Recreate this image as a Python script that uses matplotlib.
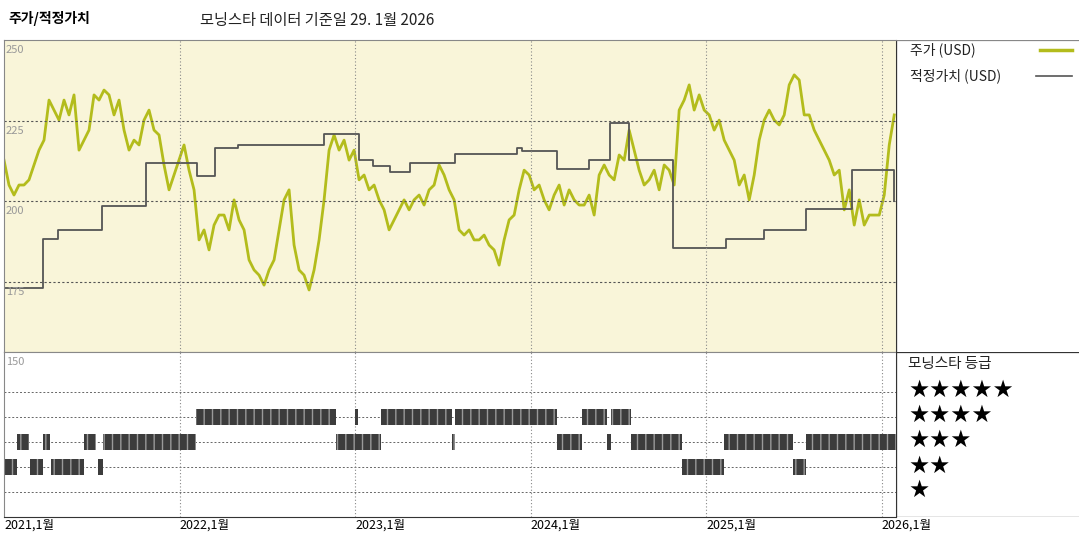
import numpy as np
import matplotlib.pyplot as plt

plt.rcParams['font.family'] = ['Noto Sans CJK KR', 'DejaVu Sans']

# price (USD), roughly every 10 days from 2021-01 to 2026-01
price = [212.8, 205.1, 202, 205.1, 205.1, 206.7, 211.3, 215.9, 219, 231.4, 228.3, 225.2, 231.4, 226.8,
         233, 215.9, 219, 222.1, 233, 231.4, 234.5, 233, 226.8, 231.4, 222.1, 215.9, 219, 217.5, 225.2,
         228.3, 222.1, 220.6, 211.3, 203.6, 208.2, 212.8, 217.5, 209.7, 203.6, 188.1, 191.2, 185, 192.7,
         195.8, 195.8, 191.2, 200.5, 194.3, 191.2, 181.9, 178.8, 177.2, 174.1, 178.8, 181.9, 191.2, 200.5,
         203.6, 186.5, 178.8, 177.2, 172.6, 178.8, 188.1, 200.5, 215.9, 220.6, 215.9, 219, 212.8, 215.9,
         206.7, 208.2, 203.6, 205.1, 200.5, 197.4, 191.2, 194.3, 197.4, 200.5, 197.4, 200.5, 202, 198.9,
         203.6, 205.1, 211.3, 208.2, 203.6, 200.5, 191.2, 189.6, 191.2, 188.1, 188.1, 189.6, 186.5, 185,
         180.3, 188.1, 194.3, 195.8, 203.6, 209.7, 208.2, 203.6, 205.1, 200.5, 197.4, 202, 205.1, 198.9,
         203.6, 200.5, 198.9, 198.9, 202, 195.8, 208.2, 211.3, 208.2, 206.7, 214.4, 212.8, 222.1, 215.9,
         209.7, 205.1, 206.7, 209.7, 203.6, 211.3, 209.7, 205.1, 228.3, 231.4, 236.1, 228.3, 233, 228.3,
         226.8, 222.1, 225.2, 219, 215.9, 212.8, 205.1, 208.2, 200.5, 208.2, 219, 225.2, 228.3, 225.2,
         223.7, 226.8, 236.1, 239.2, 237.6, 226.8, 226.8, 222.1, 219, 215.9, 212.8, 208.2, 209.7, 197.4,
         203.6, 192.7, 200.5, 192.7, 195.8, 195.8, 195.8, 202, 217.5, 226.8]
price_dates = np.linspace(2021.0, 2026.07, len(price))

# fair value steps
fv_dates = [2021.0, 2021.22, 2021.31, 2021.56, 2021.81, 2022.10, 2022.20, 2022.33, 2022.82, 2023.02,
            2023.10, 2023.20, 2023.31, 2023.57, 2023.92, 2023.95, 2024.15, 2024.33, 2024.45, 2024.56,
            2024.81, 2025.11, 2025.33, 2025.57, 2025.83, 2026.07]
fv_values = [173.2, 188.4, 191.2, 198.6, 212, 208, 216.5, 217.5, 221, 213, 211, 209, 212, 214.7,
             216.5, 215.6, 210, 212.8, 224.3, 212.8, 185.6, 188.4, 191.2, 197.7, 209.8, 200]

# star rating periods
rating_start = [2021.0, 2021.148, 2021.268, 2021.535, 2024.861, 2025.493,
                2021.074, 2021.222, 2021.456, 2021.564, 2022.891, 2023.551, 2024.149, 2024.434,
                2024.571, 2025.100, 2025.567,
                2022.093, 2022.999, 2023.147, 2023.568, 2024.292, 2024.457]
rating_end = [2021.074, 2021.222, 2021.456, 2021.564, 2025.100, 2025.567,
              2021.142, 2021.262, 2021.524, 2022.093, 2023.147, 2023.568, 2024.292, 2024.457,
              2024.861, 2025.493, 2026.080,
              2022.891, 2023.016, 2023.551, 2024.149, 2024.434, 2024.571]
rating_value = [2] * 6 + [3] * 11 + [4] * 6

years = [2021, 2022, 2023, 2024, 2025, 2026]
year_labels = [f"{y},1월" for y in years]
yticks = [250, 225, 200, 175]

green = "#b3bc1c"
grey = "#555555"
W, H = 1080, 540
fig = plt.figure(figsize=(10.8, 5.4), dpi=100)

def box(x0, y0, x1, y1):
    return [x0 / W, 1 - y1 / H, (x1 - x0) / W, (y1 - y0) / H]

xlim = (2021.0, 2026.08)

# top panel
ax = fig.add_axes(box(4, 40, 896, 352))
ax.set_facecolor("#f9f5d9")
ax.plot(price_dates, price, color=green, lw=2.0)
ax.step(fv_dates, fv_values, where="post", color=grey, lw=1.3)
ax.set_xlim(*xlim)
ax.set_ylim(153.4, 250)
for v in yticks[1:]:
    ax.axhline(v, color="#555555", ls=(0, (2, 2)), lw=0.8)
for v in yticks:
    ax.text(2021.01, v - 1.5, str(v), color="#999999", fontsize=8, va="top", ha="left")
for y in years[1:]:
    ax.axvline(y, color="#888888", ls=(0, (1, 2)), lw=0.8)
ax.set_xticks([])
ax.set_yticks([])
for s in ax.spines.values():
    s.set_color("#888888")
    s.set_linewidth(0.8)

# bottom panel
ax2 = fig.add_axes(box(4, 352, 896, 517))
for a, b, r in zip(rating_start, rating_end, rating_value):
    ax2.broken_barh([(a, b - a)], (r - 0.32, 0.64), facecolors="#3c3c3c",
                    edgecolor="#9a9a9a", hatch="||", lw=0)
ax2.set_xlim(*xlim)
ax2.set_ylim(0, 6.6)
for r in range(1, 6):
    ax2.axhline(r, color="#666666", ls=(0, (2, 2)), lw=0.7, zorder=0)
for y in years[1:]:
    ax2.axvline(y, color="#888888", ls=(0, (1, 2)), lw=0.8, zorder=0)
ax2.text(2021.01, 6.4, "150", color="#999999", fontsize=8, va="top", ha="left")
ax2.set_yticks([])
ax2.set_xticks(years)
ax2.set_xticklabels(year_labels, ha="left", fontsize=9)
ax2.tick_params(axis="x", length=0, pad=1)
for s in ["left", "right", "top"]:
    ax2.spines[s].set_color("#888888")
    ax2.spines[s].set_linewidth(0.8)
ax2.spines["bottom"].set_color("#333333")

# legend panels
lg = fig.add_axes(box(896, 40, 1079, 352))
lg.set_xlim(896, 1079)
lg.set_ylim(352, 40)
lg.axis("off")
lg.plot([896, 896], [40, 352], color="#333333", lw=0.9)
lg.plot([896, 1079], [40, 40], color="#888888", lw=0.9)
lg.text(910, 50, "주가 (USD)", fontsize=10, va="center", color="#222222")
lg.plot([1040, 1072], [50, 50], color=green, lw=2.5)
lg.text(910, 76, "적정가치 (USD)", fontsize=10, va="center", color="#222222")
lg.plot([1036, 1072], [76, 76], color=grey, lw=1.2)

sg = fig.add_axes(box(896, 352, 1079, 517))
sg.set_xlim(896, 1079)
sg.set_ylim(517, 352)
sg.axis("off")
sg.plot([896, 1079], [352, 352], color="#333333", lw=0.9)
sg.plot([896, 896], [352, 517], color="#333333", lw=0.9)
sg.plot([896, 1079], [517, 517], color="#333333", lw=0.9)
sg.text(908, 364, "모닝스타 등급", fontsize=10.5, va="center", color="#222222")
for i, yy in enumerate([390, 415, 440, 466, 490]):
    sg.text(908, yy, "★" * (5 - i), fontsize=17, va="center", color="black",
            family=["DejaVu Sans"])

fig.text(8 / W, 1 - 18 / H, "주가/적정가치", fontsize=10, fontweight="bold", va="center")
fig.text(200 / W, 1 - 21 / H, "모닝스타 데이터 기준일 29. 1월 2026", fontsize=11, va="center",
         color="#222222")

fig.savefig("out.png", dpi=100)
